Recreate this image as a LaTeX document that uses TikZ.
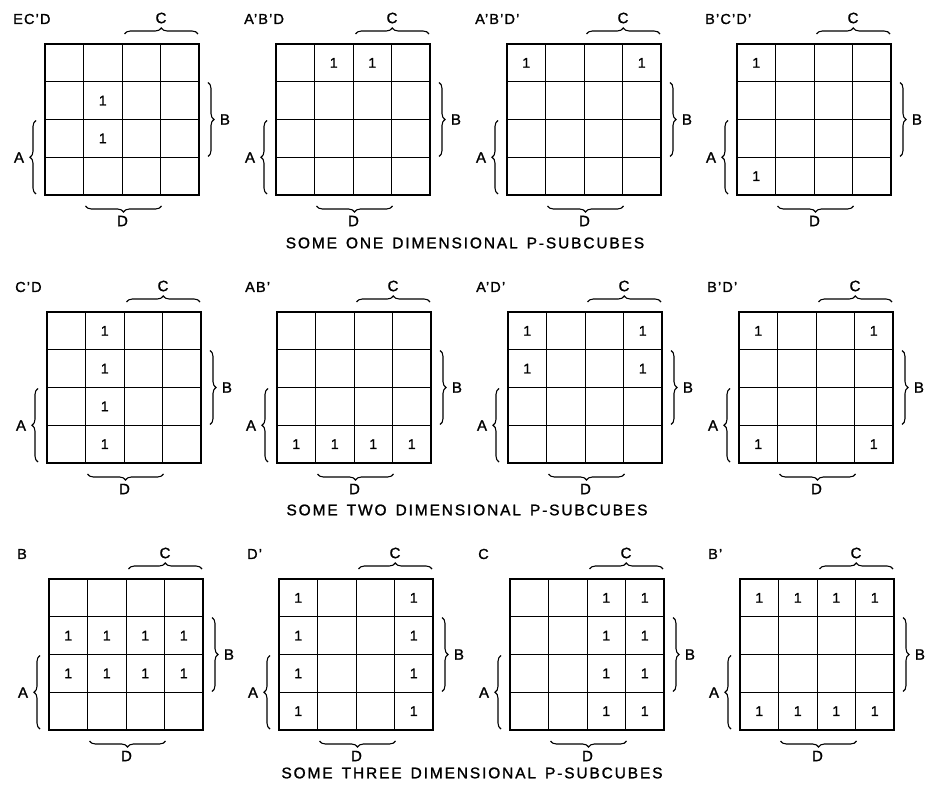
\documentclass[tikz,border=0pt]{standalone}
\usepackage{fontspec}
\setmainfont{Liberation Sans}
\newfontfamily\kfont{Liberation Sans}[FakeBold=1.3]
\newfontfamily\kcapfont{Liberation Sans}[FakeBold=1.3,LetterSpace=12]
\usetikzlibrary{decorations.pathreplacing}
\tikzset{
  kouter/.style={line width=2.4pt},
  kinner/.style={line width=1.3pt},
  kbrc/.style={decorate, decoration={brace, amplitude=6pt, aspect=0.5}, line width=1.1pt},
  klbl/.style={font=\kfont\fontsize{15}{15}\selectfont, inner sep=0pt},
  kttl/.style={font=\kfont\fontsize{14.5}{14.5}\selectfont\addfontfeature{LetterSpace=8}, inner sep=0pt, anchor=west},
  kone/.style={font=\kfont\fontsize{14}{14}\selectfont, inner sep=0pt},
  kcap/.style={font=\kcapfont\fontsize{15.5}{15.5}\selectfont, inner sep=0pt},
}
\newcommand\ws{\hspace{9pt}}
% vertical line offsets: 0, 38.5, 77.5, 115.5, 154 ; horizontal: 0, 37.5, 75.5, 113.5, 151
\newcommand\kmap[5]{%
  \begin{scope}[shift={(#2,#3)}]
    \coordinate (#1-nw) at (0,0);
    \coordinate (#1-se) at (154,151);
    \foreach \v in {38.5,77.5,115.5} \draw[kinner] (\v,0) -- (\v,151);
    \foreach \h in {37.5,75.5,113.5} \draw[kinner] (0,\h) -- (154,\h);
    \draw[kouter] (#1-nw) rectangle (#1-se);
    \node[kttl] (#1-t) at (-32,-25) {#4};
    \foreach \c/\r in {#5}
      \node[kone] (#1-\c\r) at ({(\c-0.5)*38.5},{(\r-0.5)*37.75}) {1};
    % C brace (columns 3-4, top)
    \coordinate (#1-c1) at (79.5,-10);
    \coordinate (#1-c2) at (153,-10);
    \draw[kbrc] (#1-c1) -- (#1-c2);
    \node[klbl] (#1-C) at (116,-26) {C};
    % B brace (rows 2-3, right)
    \coordinate (#1-b1) at (163,38.5);
    \coordinate (#1-b2) at (163,112.5);
    \draw[kbrc] (#1-b1) -- (#1-b2);
    \node[klbl] (#1-B) at (180,75.5) {B};
    % A brace (rows 3-4, left)
    \coordinate (#1-a1) at (-9,150);
    \coordinate (#1-a2) at (-9,76.5);
    \draw[kbrc] (#1-a1) -- (#1-a2);
    \node[klbl] (#1-A) at (-26,113.5) {A};
    % D brace (columns 2-3, bottom)
    \coordinate (#1-d1) at (116.5,162);
    \coordinate (#1-d2) at (40.5,162);
    \draw[kbrc] (#1-d1) -- (#1-d2);
    \node[klbl] (#1-D) at (77.5,177) {D};
  \end{scope}}
\begin{document}
\begin{tikzpicture}[x=1pt,y=-1pt]
\useasboundingbox[fill=white] (0,0) rectangle (932,786);
% row 1
\kmap{a1}{45}{44}{EC’D}{2/2,2/3}
\kmap{a2}{276}{44}{A’B’D}{2/1,3/1}
\kmap{a3}{507}{44}{A’B’D’}{1/1,4/1}
\kmap{a4}{737}{44}{B’C’D’}{1/1,1/4}
\node[kcap] (cap1) at (465,243) {SOME\ws ONE\ws DIMENSIONAL\ws P-SUBCUBES};
% row 2
\kmap{b1}{47}{312}{C’D}{2/1,2/2,2/3,2/4}
\kmap{b2}{277}{312}{AB’}{1/4,2/4,3/4,4/4}
\kmap{b3}{508}{312}{A’D’}{1/1,4/1,1/2,4/2}
\kmap{b4}{739}{312}{B’D’}{1/1,4/1,1/4,4/4}
\node[kcap] (cap2) at (467,510) {SOME\ws TWO\ws DIMENSIONAL\ws P-SUBCUBES};
% row 3
\kmap{c1}{49}{579}{B}{1/2,2/2,3/2,4/2,1/3,2/3,3/3,4/3}
\kmap{c2}{279}{579}{D’}{1/1,1/2,1/3,1/4,4/1,4/2,4/3,4/4}
\kmap{c3}{510}{579}{C}{3/1,3/2,3/3,3/4,4/1,4/2,4/3,4/4}
\kmap{c4}{740}{579}{B’}{1/1,2/1,3/1,4/1,1/4,2/4,3/4,4/4}
\node[kcap] (cap3) at (472,773) {SOME\ws THREE\ws DIMENSIONAL\ws P-SUBCUBES};
\end{tikzpicture}
\end{document}
